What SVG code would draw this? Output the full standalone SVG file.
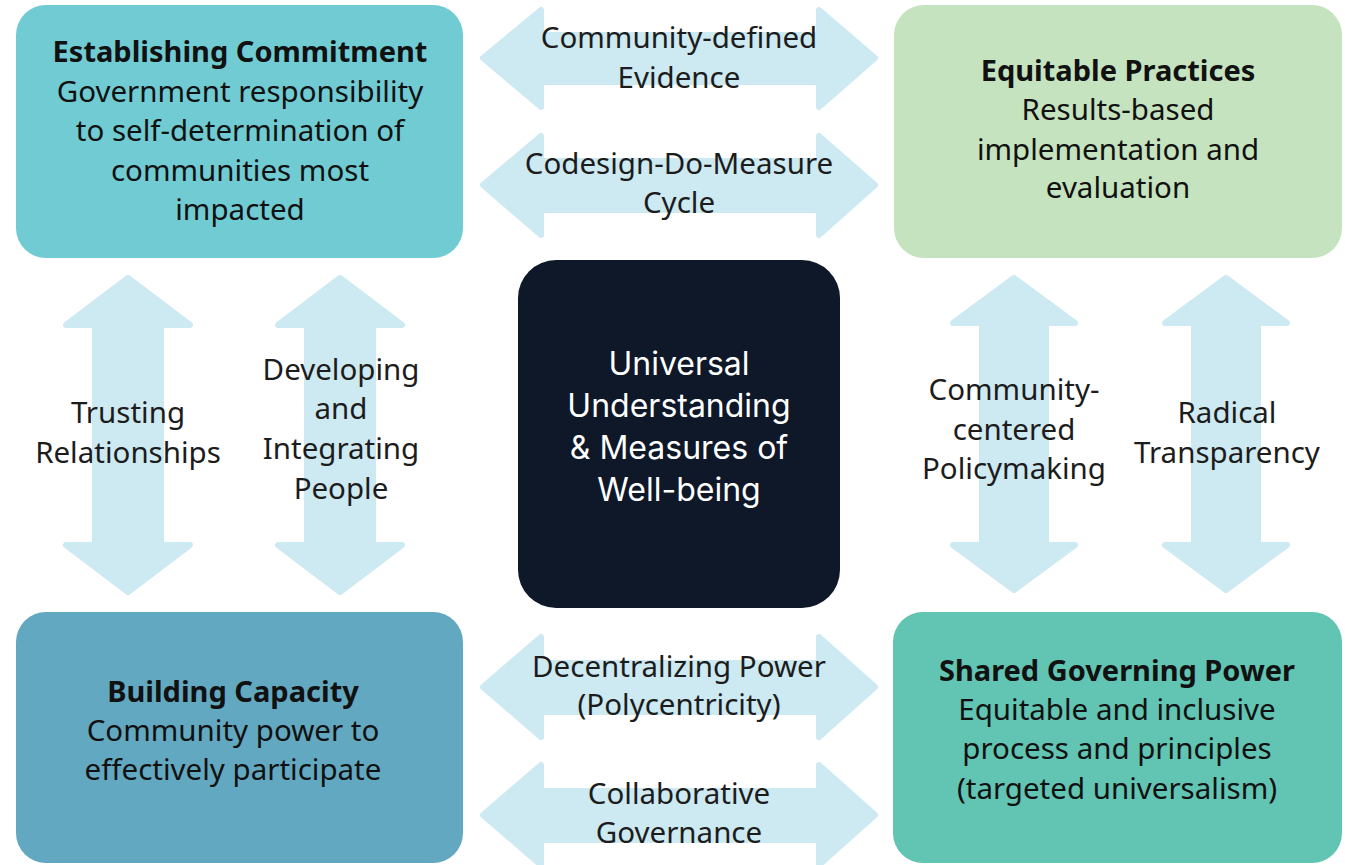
<svg xmlns="http://www.w3.org/2000/svg" width="1345" height="865" viewBox="0 0 1345 865">
<style>
.arrow{fill:#cde9f1;stroke:#cde9f1;stroke-width:6;stroke-linejoin:round}
.lbl{font-family:"Noto Sans","Liberation Sans",sans-serif;font-size:29.5px;fill:#1c1c1c;text-anchor:middle}
.bt{font-family:"Noto Sans","Liberation Sans",sans-serif;font-size:29.5px;fill:#111;text-anchor:middle}
.bold{font-weight:700;font-size:29px}
.ct{font-family:Inter,"Noto Sans",sans-serif;font-size:32px;fill:#ffffff;text-anchor:middle}
</style>
<rect width="1345" height="865" fill="#ffffff"/>
<g id="connectors">
  <path class="arrow" d="M483,58 L541,10 L541,35 L819,35 L819,10 L875,58 L819,107 L819,82 L541,82 L541,107 Z"/>
  <path class="arrow" d="M483,185 L541,136 L541,161 L819,161 L819,136 L875,185 L819,235 L819,210 L541,210 L541,235 Z"/>
  <path class="arrow" d="M483,687 L541,637 L541,663 L819,663 L819,637 L875,687 L819,737 L819,712 L541,712 L541,737 Z"/>
  <path class="arrow" d="M483,815 L541,765 L541,791 L819,791 L819,765 L875,815 L819,865 L819,840 L541,840 L541,865 Z"/>
  <path class="arrow" d="M128,278 L190,325 L161,325 L161,545 L190,545 L128,592 L66,545 L95,545 L95,325 L66,325 Z"/>
  <path class="arrow" d="M340,278 L402,325 L373,325 L373,545 L402,545 L340,592 L278,545 L307,545 L307,325 L278,325 Z"/>
  <path class="arrow" d="M1014,278 L1075,323 L1046,323 L1046,545 L1075,545 L1014,590 L953,545 L982,545 L982,323 L953,323 Z"/>
  <path class="arrow" d="M1226,278 L1287,323 L1258,323 L1258,545 L1287,545 L1226,590 L1165,545 L1194,545 L1194,323 L1165,323 Z"/>
  <text class="lbl" x="679" y="48">Community-defined</text>
  <text class="lbl" x="679" y="88">Evidence</text>
  <text class="lbl" x="679" y="174">Codesign-Do-Measure</text>
  <text class="lbl" x="679" y="213">Cycle</text>
  <text class="lbl" x="679" y="677">Decentralizing Power</text>
  <text class="lbl" x="679" y="715">(Polycentricity)</text>
  <text class="lbl" x="679" y="804">Collaborative</text>
  <text class="lbl" x="679" y="843">Governance</text>
  <text class="lbl" x="128" y="423">Trusting</text>
  <text class="lbl" x="128" y="463">Relationships</text>
  <text class="lbl" x="341" y="380">Developing</text>
  <text class="lbl" x="341" y="419">and</text>
  <text class="lbl" x="341" y="459">Integrating</text>
  <text class="lbl" x="341" y="499">People</text>
  <text class="lbl" x="1014" y="400">Community-</text>
  <text class="lbl" x="1014" y="440">centered</text>
  <text class="lbl" x="1014" y="479">Policymaking</text>
  <text class="lbl" x="1227" y="423">Radical</text>
  <text class="lbl" x="1227" y="463">Transparency</text>
</g>
<g id="establishing-commitment">
  <rect x="16" y="5" width="447" height="253" rx="30" fill="#70cbd3"/>
  <text class="bt bold" x="240" y="62">Establishing Commitment</text>
  <text class="bt" x="240" y="102">Government responsibility</text>
  <text class="bt" x="240" y="141">to self-determination of</text>
  <text class="bt" x="240" y="181">communities most</text>
  <text class="bt" x="240" y="220">impacted</text>
</g>
<g id="equitable-practices">
  <rect x="894" y="5" width="448" height="253" rx="30" fill="#c5e3bf"/>
  <text class="bt bold" x="1118" y="81">Equitable Practices</text>
  <text class="bt" x="1118" y="120">Results-based</text>
  <text class="bt" x="1118" y="160">implementation and</text>
  <text class="bt" x="1118" y="198">evaluation</text>
</g>
<g id="universal-understanding">
  <rect x="518" y="260" width="322" height="348" rx="38" fill="#0e1828"/>
  <text class="ct" x="679" y="375">Universal</text>
  <text class="ct" x="679" y="417">Understanding</text>
  <text class="ct" x="679" y="459">&amp; Measures of</text>
  <text class="ct" x="679" y="501">Well-being</text>
</g>
<g id="building-capacity">
  <rect x="16" y="612" width="447" height="251" rx="30" fill="#62a8c0"/>
  <text class="bt bold" x="233" y="702">Building Capacity</text>
  <text class="bt" x="233" y="741">Community power to</text>
  <text class="bt" x="233" y="780">effectively participate</text>
</g>
<g id="shared-governing-power">
  <rect x="893" y="612" width="449" height="251" rx="30" fill="#62c4b2"/>
  <text class="bt bold" x="1117" y="681">Shared Governing Power</text>
  <text class="bt" x="1117" y="720">Equitable and inclusive</text>
  <text class="bt" x="1117" y="759">process and principles</text>
  <text class="bt" x="1117" y="799">(targeted universalism)</text>
</g>
</svg>
